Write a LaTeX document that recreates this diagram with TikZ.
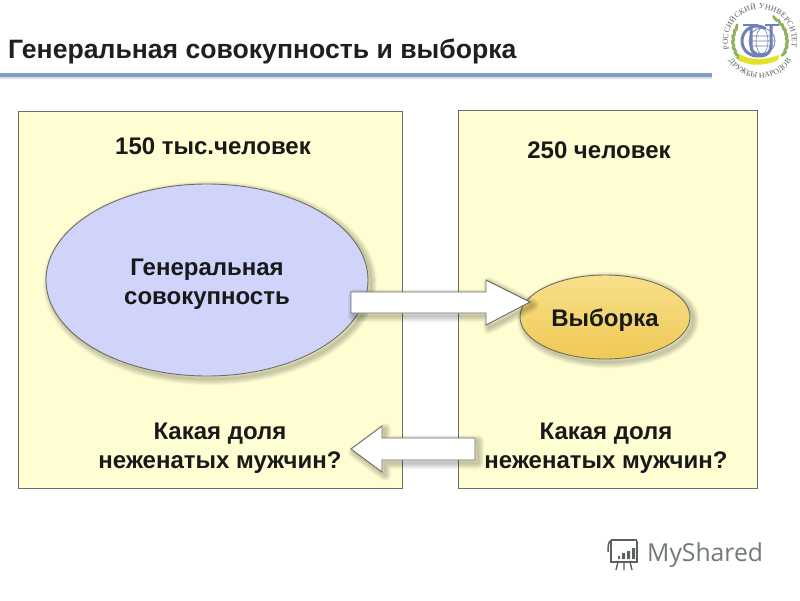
\documentclass[tikz,border=0pt]{standalone}
\usepackage{fontspec}
\setmainfont{Liberation Sans}
\newfontfamily\logoserif{Liberation Serif}
\newfontfamily\logosans{Open Sans}
\usetikzlibrary{decorations.text,shapes.geometric}
\definecolor{panelfill}{HTML}{FFFDD2}
\definecolor{panelline}{HTML}{6E6E60}
\definecolor{bluefill}{HTML}{D0D3FA}
\definecolor{goldtop}{HTML}{F8E08A}
\definecolor{goldbottom}{HTML}{EFC954}
\definecolor{rulecol}{HTML}{7F9FCB}
\definecolor{logoblue}{HTML}{6F82B4}
\definecolor{logogreen}{HTML}{8DB25E}
\definecolor{logogrey}{HTML}{59625F}
\tikzset{
  panel/.style={draw=panelline,line width=0.9pt,fill=panelfill},
  body/.style={font=\fontsize{24}{28.5}\bfseries\selectfont,text=black!90,align=center,inner sep=0pt},
  blockarrow/.style={draw=panelline,line width=0.9pt,fill=white,line join=miter},
  softshadow/.style={draw=black,opacity=0.04,line join=round},
  ringtext/.style={decoration={text along path,text align=fit to path,
     text={|\fontsize{7.8}{8}\logoserif\color{logogrey}|#1}},decorate},
  leaf/.style={fill=logogreen}
}
\begin{document}
\begin{tikzpicture}[x=1pt,y=-1pt]
\useasboundingbox (0,0) rectangle (800,600);
\fill[white] (0,0) rectangle (800,600);

% title
\node[anchor=west,inner sep=0pt,font=\fontsize{26.6}{30}\bfseries\selectfont,text=black!88] (title) at (8,52) {Генеральная совокупность и выборка};
\fill[black!12] (0,76.5) rectangle (712,79);
\fill[rulecol] (0,73) rectangle (712,76.5);

% panels
\draw[panel] (18,111) rectangle (402,488);
\draw[panel] (458,110) rectangle (757,488);

\node[body] (lefthead) at (213,146) {150 тыс.человек};
\node[body] (righthead) at (599,150) {250 человек};

% ellipse shadows
\foreach \d in {2,4,...,12}{
  \draw[softshadow,line width=\d pt] (210,283) ellipse[x radius=161,y radius=96];
  \draw[softshadow,line width=\d pt] (608,320) ellipse[x radius=85,y radius=42];
}
\node[ellipse,draw=panelline,line width=0.9pt,fill=bluefill,minimum width=322pt,minimum height=192pt,inner sep=0pt] (pop) at (207,280) {};
\node[body] at (207,284) {Генеральная\\совокупность};
\node[ellipse,draw=panelline,line width=0.9pt,top color=goldtop,bottom color=goldbottom,minimum width=170pt,minimum height=84pt,inner sep=0pt] (sample) at (605,317) {};
\node[body] at (605,320) {Выборка};

\node[body] (leftq) at (220,448) {Какая доля\\неженатых мужчин?};
\node[body] (rightq) at (606,448) {Какая доля\\неженатых мужчин?};

% block arrows
\foreach \d in {2,4,...,12}{
  \draw[softshadow,line width=\d pt] (354,295) -- (489,295) -- (489,283) -- (533,305) -- (489,328) -- (489,316) -- (354,316) -- cycle;
  \draw[softshadow,line width=\d pt] (478,441) -- (385,441) -- (385,429) -- (354,452) -- (385,475) -- (385,463) -- (478,463) -- cycle;
}
\draw[blockarrow] (351,292) -- (486,292) -- (486,280) -- (530,302) -- (486,325) -- (486,313) -- (351,313) -- cycle;
\draw[blockarrow] (475,438) -- (382,438) -- (382,426) -- (351,449) -- (382,472) -- (382,460) -- (475,460) -- cycle;

% university emblem (y axis up inside this scope)
\begin{scope}[shift={(760,41)},x=1pt,y=1pt]
  \path[ringtext={РОССИЙСКИЙ УНИВЕРСИТЕТ}] (195:32) arc[start angle=195,end angle=-12,radius=32];
  \path[ringtext={ДРУЖБЫ НАРОДОВ}] (212:37) arc[start angle=212,end angle=328,radius=37];
  % wreath
  \foreach \a in {-28,-16,...,56}{
    \fill[leaf] (\a:27) ellipse[x radius=4.2,y radius=1.6,rotate=\a+70];
  }
  \foreach \a in {-42,-30,...,36}{
    \fill[leaf] (180-\a:27) ellipse[x radius=4.2,y radius=1.6,rotate=110-\a];
  }
  % globe
  \draw[logoblue,line width=0.8pt] (2,0) circle[radius=13];
  \draw[logoblue,line width=0.6pt] (2,0) ellipse[x radius=6,y radius=13] (-10,5) -- (14,5) (-10,-5) -- (14,-5) (-11,0) -- (15,0);
  % C and U
  \draw[logoblue,line width=3pt] (-3,0) ++(55:15) arc[start angle=55,end angle=305,radius=15];
  \draw[logoblue,line width=3pt] (-9,16) -- (-9,-5) arc[start angle=180,end angle=360,radius=10] -- (11,16);
  \draw[logoblue,line width=1.6pt] (-17,16) -- (-2,16) (5,16) -- (19,16);
  % ribbon
  \fill[yellow!75!logogreen] (-22,-18) .. controls (-12,-26) and (6,-25) .. (18,-19) -- (19,-14) .. controls (6,-19) and (-10,-20) .. (-20,-13) -- cycle;
\end{scope}

% MyShared mark
\begin{scope}[draw=logogrey,line width=1.5pt]
  \draw (611,541) -- (611,562) -- (637,562) -- (637,541);
  \draw (612,540) -- (637,540);
  \draw (616,540) .. controls (609,538) and (608,543) .. (608,552);
  \draw[line width=1.4pt] (618,562) -- (616,570) (624,562) -- (624,570) (630,562) -- (632,570);
  \fill[logogrey] (618,556) rectangle (620,559) (622,553) rectangle (625,559) (627,551) rectangle (630,559) (632,548) rectangle (635,559);
\end{scope}
\node[anchor=west,inner sep=0pt,font=\logosans\fontsize{24.7}{30}\selectfont,text=logogrey!85] (brand) at (647,555) {MyShared};
\end{tikzpicture}
\end{document}
